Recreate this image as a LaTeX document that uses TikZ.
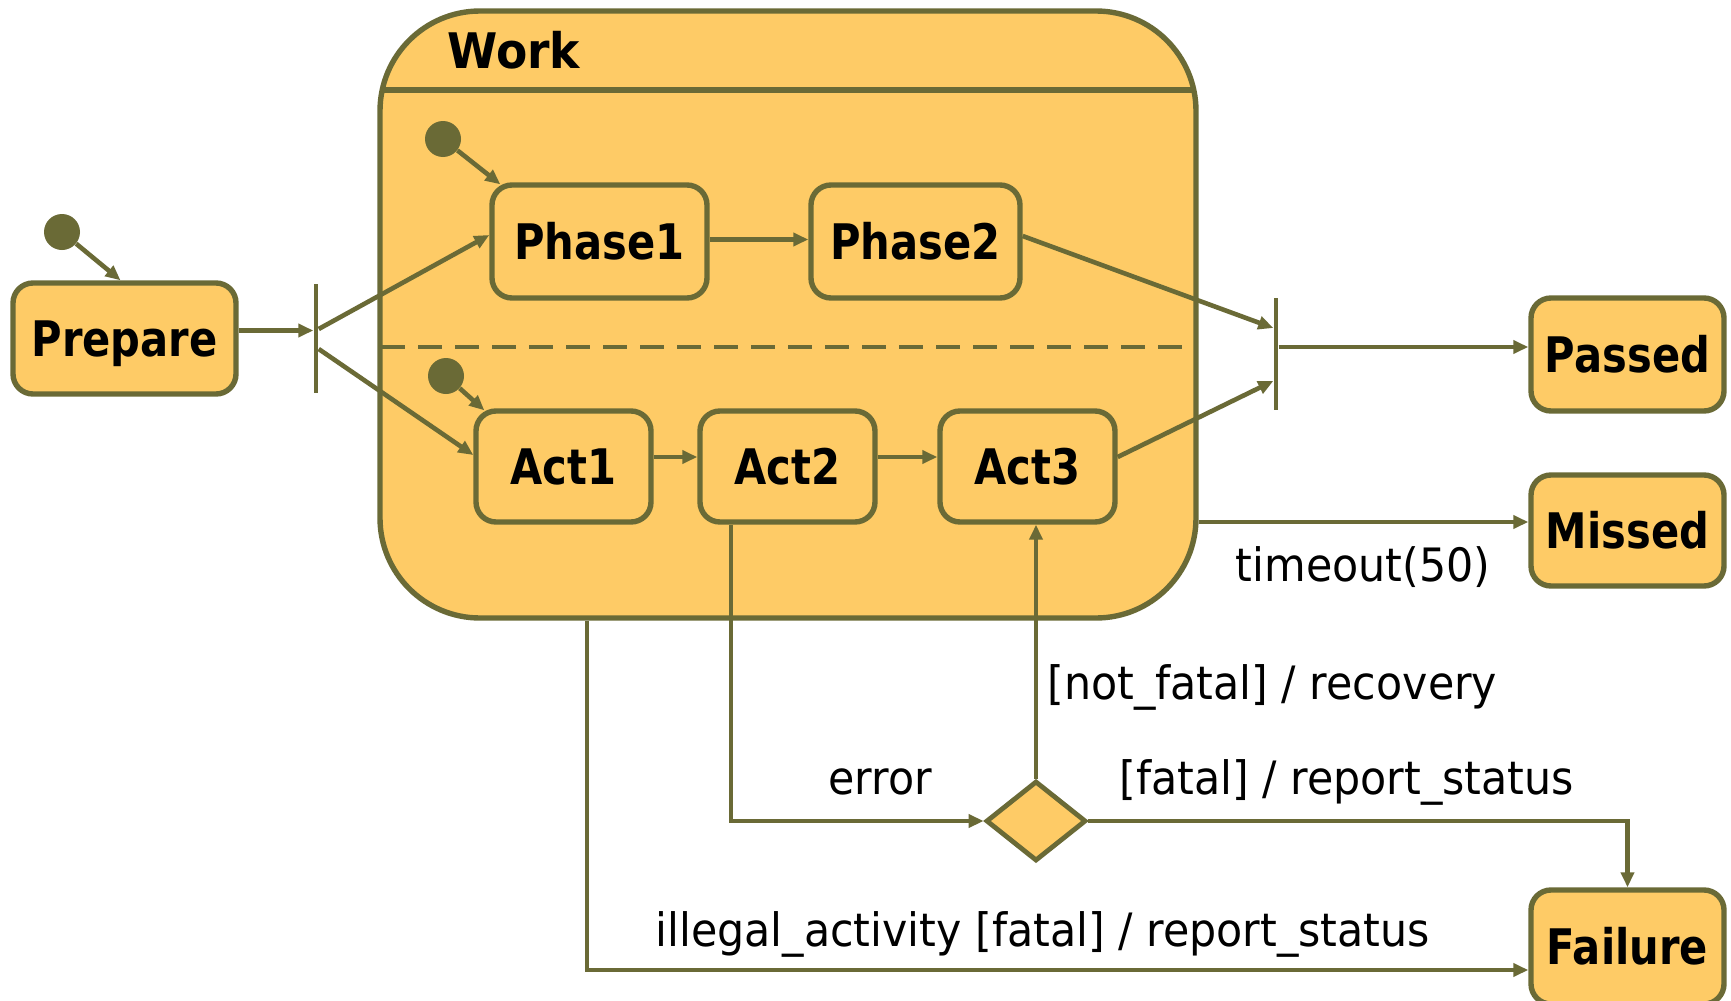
\documentclass[tikz,border=0pt]{standalone}
\usepackage{fontspec}
\setmainfont{DejaVu Sans}[FakeStretch=0.93]
\newfontfamily\tfont{DejaVu Sans}[FakeStretch=0.85]
\newfontfamily\wfont{DejaVu Sans}[FakeStretch=0.93]
\usetikzlibrary{arrows.meta,shapes.geometric,calc}
\definecolor{fillc}{HTML}{FECB66}
\definecolor{linec}{HTML}{6A6A36}
\begin{document}
\begin{tikzpicture}[x=0.5pt,y=-0.5pt,
 titlefont/.style={font=\tfont\bfseries\fontsize{24.5}{29}\selectfont},
 statebox/.style={draw=linec,fill=fillc,line width=2.7pt,rounded corners=10pt,inner sep=0pt,titlefont,text height=23.3pt,text depth=5.4pt},
 initdot/.style={circle,fill=linec,minimum size=18pt,inner sep=0pt},
 bar/.style={fill=linec,minimum width=2.3pt,inner sep=0pt},
 conn/.style={draw=linec,line width=2.3pt,-{Triangle[length=7.5pt,width=6.5pt]}},
 lbl/.style={font=\fontsize{23}{27}\selectfont,inner sep=0pt}
]
\useasboundingbox (0,0) rectangle (1731,1001);
\clip (0,0) rectangle (1731,1001);
\fill[white] (0,0) rectangle (1731,1001);

% composite state
\node[draw=linec,fill=fillc,line width=2.7pt,rounded corners=50pt,minimum width=408pt,minimum height=303.5pt,inner sep=0pt] (work) at (788,314.5) {};
\draw[linec,line width=2.7pt] (382,90) -- (1194,90);
\draw[linec,line width=2.4pt,dash pattern=on 12pt off 6.5pt] (381,347) -- (1192,347);
\node[font=\wfont\bfseries\fontsize{24.5}{29}\selectfont,anchor=west,inner sep=0pt] (worklbl) at (447,50) {Work};

% states
\node[statebox,minimum width=111.5pt,minimum height=55.5pt] (prepare) at (124.5,338.5) {Prepare};
\node[statebox,minimum width=107.5pt,minimum height=56.5pt] (phase1) at (599.5,241.5) {Phase1};
\node[statebox,minimum width=104.5pt,minimum height=56.5pt] (phase2) at (915.5,241.5) {Phase2};
\node[statebox,minimum width=87.5pt,minimum height=55.5pt] (act1) at (563.5,466.5) {Act1};
\node[statebox,minimum width=87.5pt,minimum height=55.5pt] (act2) at (787.5,466.5) {Act2};
\node[statebox,minimum width=87.5pt,minimum height=55.5pt] (act3) at (1027.5,466.5) {Act3};
\node[statebox,minimum width=96.5pt,minimum height=56.5pt] (passed) at (1627.5,354.5) {Passed};
\node[statebox,minimum width=96.5pt,minimum height=55.5pt] (missed) at (1627.5,530.5) {Missed};
\node[statebox,minimum width=96.5pt,minimum height=57pt] (failure) at (1627.5,947) {Failure};

% pseudo states
\node[initdot] (pinit) at (62,232) {};
\node[initdot] (init1) at (443,139) {};
\node[initdot] (init2) at (446,376) {};
\node[bar,minimum height=54.5pt] (fork) at (316,338.5) {};
\node[bar,minimum height=56pt] (join) at (1276,354) {};
\node[diamond,draw=linec,fill=fillc,line width=2.4pt,minimum width=50pt,minimum height=40pt,inner sep=0pt] (dec) at (1036,821) {};

% connectors
\draw[conn] (pinit) -- ([xshift=-2pt]prepare.north);
\draw[conn] (init1) -- ([xshift=5.5pt,yshift=-1pt]phase1.north west);
\draw[conn] (init2) -- ([xshift=5.5pt,yshift=-1pt]act1.north west);
\draw[conn] ([yshift=4pt]prepare.east) -- ([yshift=4pt]prepare.east -| fork.west);
\draw[conn] ([yshift=4.75pt]fork.east) -- ([yshift=3.25pt]phase1.west);
\draw[conn] ([yshift=-5.25pt]fork.east) -- ([yshift=5.75pt]act1.west);
\draw[conn] ([yshift=1pt]phase1.east) -- ([yshift=1pt]phase2.west);
\draw[conn] ([yshift=4.75pt]act1.east) -- ([yshift=4.75pt]act2.west);
\draw[conn] ([yshift=4.75pt]act2.east) -- ([yshift=4.75pt]act3.west);
\draw[conn] ([yshift=2.75pt]phase2.east) -- ([yshift=13pt]join.west);
\draw[conn] ([yshift=4.75pt]act3.east) -- ([yshift=-13.5pt]join.west);
\draw[conn] ([yshift=3.5pt]join.east) -- ([yshift=3.5pt]join.east -| passed.west);
\draw[conn] ([yshift=-103.75pt]work.east) -- ([yshift=-103.75pt]work.east -| missed.west);
\draw[conn] ([xshift=-28.25pt]act2.south) |- (dec.west);
\draw[conn] (dec.north) -- (dec.north |- act3.south);
\draw[conn] (dec.east) -| (failure.north);
\draw[conn] ([xshift=-100.5pt]work.south) |- ([yshift=-11.5pt]failure.west);

% labels
\node[lbl] (ltimeout) at (1363,567) {timeout(50)};
\node[lbl,anchor=west] (lnotfatal) at (1047,687) {[not\_fatal] / recovery};
\node[lbl] (lerror) at (880,782) {error};
\node[lbl,anchor=west] (lfatal) at (1119,782) {[fatal] / report\_status};
\node[lbl,anchor=west] (lillegal) at (655,934) {illegal\_activity [fatal] / report\_status};
\end{tikzpicture}
\end{document}
